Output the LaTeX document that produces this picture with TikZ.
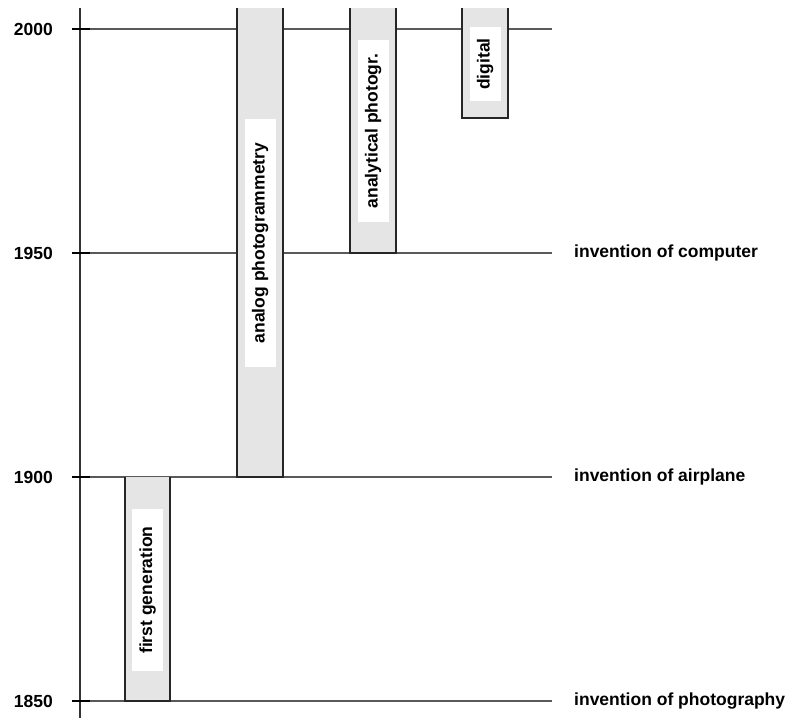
\documentclass[tikz,border=0pt]{standalone}
\usepackage{fontspec}
\setmainfont{Liberation Sans}
\usetikzlibrary{positioning}

\tikzset{
  yearline/.style={draw=black!65, line width=1.3pt},
  tickmark/.style={draw=black, line width=1.6pt},
  axisline/.style={draw=black!80, line width=1.4pt},
  epoch/.style={fill=black!10, draw=black!85, line width=1.5pt},
  epochlabel/.style={fill=white, rotate=90, font=\bfseries\fontsize{17.5}{20}\selectfont,
    inner xsep=0pt, inner ysep=7.5pt, text height=12.5pt, text depth=3.5pt},
  yearlabel/.style={font=\bfseries\fontsize{17.5}{20}\selectfont, inner sep=0pt},
  eventlabel/.style={font=\bfseries\fontsize{17.5}{20}\selectfont, inner sep=0pt}
}

\begin{document}
\begin{tikzpicture}[x=1pt, y=-1pt]
  \useasboundingbox (0,0) rectangle (793,723);

  % year lines
  \coordinate (l2000) at (72,29);  \coordinate (r2000) at (552,29);
  \coordinate (l1950) at (72,253); \coordinate (r1950) at (552,253);
  \coordinate (l1900) at (72,477); \coordinate (r1900) at (552,477);
  \coordinate (l1850) at (72,701); \coordinate (r1850) at (552,701);
  \draw[yearline] (l2000) -- (r2000); %
  \draw[yearline] (l1950) -- (r1950); %
  \draw[yearline] (l1900) -- (r1900); %
  \draw[yearline] (l1850) -- (r1850); %

  % time axis
  \coordinate (axtop) at (80,8);
  \coordinate (axbot) at (80,718);
  \draw[axisline] (axtop) -- (axbot); %
  \draw[tickmark] (l2000) -- ++(18,0); %
  \draw[tickmark] (l1950) -- ++(18,0); %
  \draw[tickmark] (l1900) -- ++(18,0); %
  \draw[tickmark] (l1850) -- ++(18,0); %

  % years
  \node[yearlabel, left=19pt of l2000] (y2000) {2000}; %
  \node[yearlabel, left=19pt of l1950] (y1950) {1950}; %
  \node[yearlabel, left=19pt of l1900] (y1900) {1900}; %
  \node[yearlabel, left=19pt of l1850] (y1850) {1850}; %

  % events
  \node[eventlabel, right=22pt of r1950] (computer) {invention of computer}; %
  \node[eventlabel, right=22pt of r1900] (airplane) {invention of airplane}; %
  \node[eventlabel, right=22pt of r1850] (photo) {invention of photography}; %

  % epochs
  \draw[epoch] (125,477) |- (170,701) -- (170,477); %
  \draw[epoch] (237,8) |- (283,477) -- (283,8); %
  \draw[epoch] (350,8) |- (396,253) -- (396,8); %
  \draw[epoch] (462,8) |- (508,118) -- (508,8); %

  \node[epochlabel, minimum width=162pt] (firstgen) at (147.5,590) {first generation}; %
  \node[epochlabel, minimum width=248pt] (analog) at (260,243) {analog photogrammetry}; %
  \node[epochlabel, minimum width=182pt] (analytical) at (373,131) {analytical photogr.}; %
  \node[epochlabel, minimum width=74pt] (digital) at (485,64) {digital}; %

\end{tikzpicture}
\end{document}
